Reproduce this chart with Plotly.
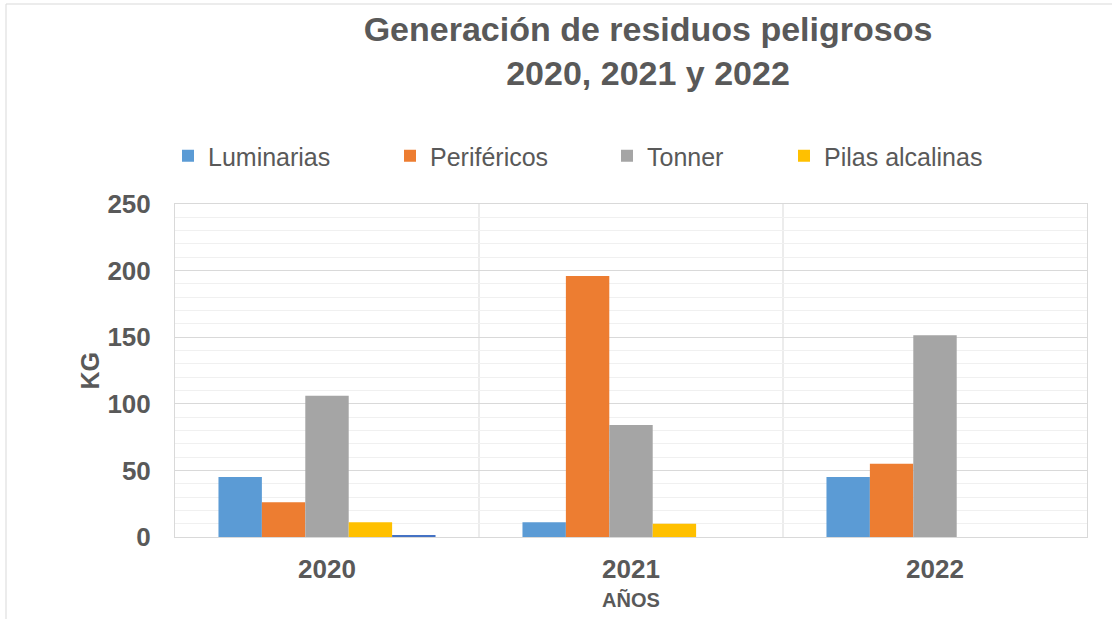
import plotly.graph_objects as go

# Hazardous waste generated per year (kg)
years = ["2020", "2021", "2022"]
luminarias = [45, 11, 45]
perifericos = [26, 196, 55]
tonner = [106, 84, 151.5]
pilas_alcalinas = [11, 10, None]
otros = [1, None, None]

series = [
    ("Luminarias", luminarias, "#5B9BD5", "legend"),
    ("Periféricos", perifericos, "#ED7D31", "legend2"),
    ("Tonner", tonner, "#A5A5A5", "legend3"),
    ("Pilas alcalinas", pilas_alcalinas, "#FFC000", "legend4"),
]

FONT = "Liberation Sans, Arial, sans-serif"
TEXT = "#595959"

fig = go.Figure()
for name, vals, color, leg in series:
    fig.add_trace(go.Bar(
        x=years, y=vals, name=name, legend=leg,
        marker=dict(color=color, line=dict(width=0)),
    ))
fig.add_trace(go.Bar(
    x=years, y=otros, name="Otros", showlegend=False,
    marker=dict(color="#4472C4", line=dict(width=0)),
))

# plot-area geometry in pixels (used for placing decorations)
W, H = 1112, 619
L, R, T, B = 175, 25, 204, 82
pw, ph = W - L - R, H - T - B


def px(xp):
    return (xp - L) / pw


def py(yp):
    return (H - B - yp) / ph


legend_common = dict(
    orientation="h", yanchor="middle", xanchor="left",
    font=dict(family=FONT, size=25, color=TEXT),
    bgcolor="rgba(0,0,0,0)", borderwidth=0,
)
legend_x = [168, 390, 607, 784]
legend_y = py(156)

fig.update_layout(
    width=W, height=H,
    margin=dict(l=L, r=R, t=T, b=B),
    paper_bgcolor="white", plot_bgcolor="white",
    barmode="group", bargap=0.286, bargroupgap=0,
    font=dict(family=FONT, color=TEXT),
    title=dict(
        text="<b>Generación de residuos peligrosos<br>2020, 2021 y 2022</b>",
        x=648 / W, xanchor="center", y=1 - 41 / H, yanchor="middle",
        font=dict(family=FONT, size=34, color=TEXT),
    ),
    legend=dict(x=px(legend_x[0]), y=legend_y, **legend_common),
    legend2=dict(x=px(legend_x[1]), y=legend_y, **legend_common),
    legend3=dict(x=px(legend_x[2]), y=legend_y, **legend_common),
    legend4=dict(x=px(legend_x[3]), y=legend_y, **legend_common),
    xaxis=dict(
        showgrid=False, showline=True, mirror=True, linecolor="#D9D9D9",
        linewidth=1, ticks="", ticklabelstandoff=9,
        tickfont=dict(family=FONT, size=26, color=TEXT),
        tickprefix="<b>", ticksuffix="</b>",
        title=dict(text="<b>AÑOS</b>", standoff=9,
                   font=dict(family=FONT, size=20, color=TEXT)),
    ),
    yaxis=dict(
        range=[0, 250], dtick=50, showline=True, mirror=True,
        linecolor="#D9D9D9", linewidth=1,
        gridcolor="#D9D9D9", gridwidth=1, zeroline=False,
        minor=dict(dtick=10, showgrid=True, gridcolor="#F0F0F0", gridwidth=1),
        ticks="", ticklabelstandoff=18,
        tickfont=dict(family=FONT, size=26, color=TEXT),
        tickprefix="<b>", ticksuffix="</b>",
    ),
)

# y-axis title
fig.add_annotation(
    text="<b>KG</b>", textangle=-90, showarrow=False,
    xref="paper", yref="paper", x=px(89), y=0.5,
    xanchor="center", yanchor="middle",
    font=dict(family=FONT, size=25, color=TEXT),
)

# vertical separators between year groups
for xv in (0.5, 1.5):
    fig.add_shape(type="line", xref="x", yref="paper", x0=xv, x1=xv, y0=0, y1=1,
                  line=dict(color="#D9D9D9", width=1), layer="below")

# chart-area border (top and left edges)
fig.add_shape(type="line", xref="paper", yref="paper",
              x0=px(6), x1=px(W + 5), y0=py(4), y1=py(4),
              line=dict(color="#D9D9D9", width=1))
fig.add_shape(type="line", xref="paper", yref="paper",
              x0=px(6), x1=px(6), y0=py(4), y1=py(H + 5),
              line=dict(color="#D9D9D9", width=1))

fig.write_html("out.html")
